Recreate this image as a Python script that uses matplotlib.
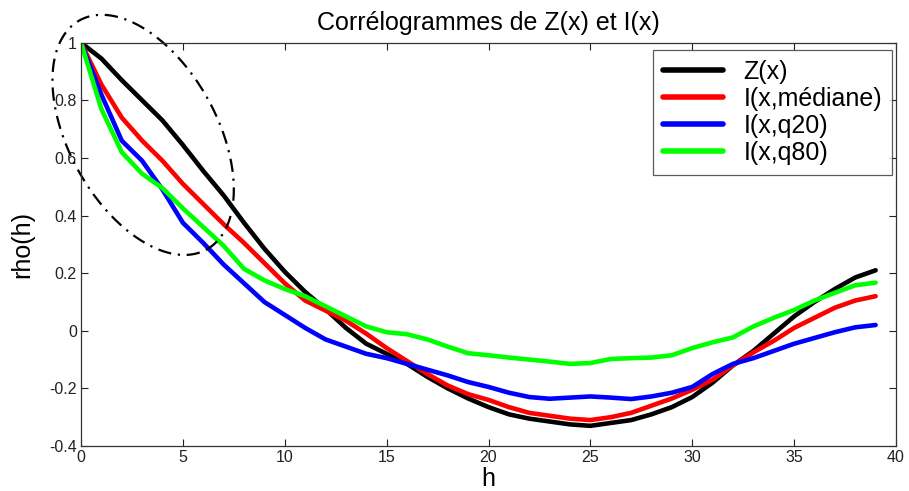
import numpy as np
import matplotlib
matplotlib.use("Agg")
import matplotlib.pyplot as plt

h = list(range(40))
z_x = [1.0, 0.945, 0.87, 0.80, 0.73, 0.645, 0.555, 0.47, 0.375, 0.285,
       0.205, 0.135, 0.075, 0.01, -0.045, -0.08, -0.115, -0.16, -0.2, -0.235,
       -0.265, -0.29, -0.305, -0.315, -0.325, -0.33, -0.32, -0.31, -0.29, -0.265,
       -0.23, -0.18, -0.12, -0.07, -0.01, 0.05, 0.1, 0.145, 0.185, 0.21]
i_med = [1.0, 0.855, 0.74, 0.66, 0.59, 0.51, 0.44, 0.37, 0.305, 0.235,
         0.165, 0.105, 0.07, 0.035, -0.01, -0.06, -0.105, -0.15, -0.19, -0.22,
         -0.24, -0.265, -0.285, -0.295, -0.305, -0.31, -0.3, -0.285, -0.26, -0.235,
         -0.205, -0.17, -0.12, -0.075, -0.035, 0.01, 0.045, 0.08, 0.105, 0.12]
i_q20 = [1.0, 0.82, 0.66, 0.59, 0.49, 0.375, 0.305, 0.23, 0.165, 0.1,
         0.055, 0.01, -0.03, -0.055, -0.08, -0.095, -0.115, -0.135, -0.155, -0.178,
         -0.195, -0.215, -0.23, -0.236, -0.232, -0.228, -0.232, -0.237, -0.228, -0.215,
         -0.195, -0.15, -0.115, -0.095, -0.07, -0.045, -0.025, -0.005, 0.012, 0.02]
i_q80 = [1.0, 0.77, 0.62, 0.545, 0.495, 0.425, 0.36, 0.295, 0.215, 0.175,
         0.145, 0.12, 0.085, 0.05, 0.015, -0.005, -0.012, -0.03, -0.055, -0.078,
         -0.085, -0.093, -0.1, -0.107, -0.115, -0.112, -0.098, -0.095, -0.093, -0.085,
         -0.06, -0.04, -0.023, 0.015, 0.045, 0.072, 0.105, 0.132, 0.158, 0.167]

series_labels = ["Z(x)", "I(x,médiane)", "I(x,q20)", "I(x,q80)"]
series_colors = ["#000000", "#ff0000", "#0000ff", "#00ff00"]
xticks = [0, 5, 10, 15, 20, 25, 30, 35, 40]
yticks = [-0.4, -0.2, 0, 0.2, 0.4, 0.6, 0.8, 1]
ytick_labels = ["-0.4", "-0.2", "0", "0.2", "0.4", "0.6", "0.8", "1"]

plt.rcParams['font.family'] = ['Liberation Sans', 'DejaVu Sans']

fig = plt.figure(figsize=(9.09, 4.91), dpi=100)
ax = fig.add_axes([81/909, 1-446/491, (896-81)/909, (446-42.7)/491])

for ys, lab, col in zip([z_x, i_med, i_q20, i_q80], series_labels, series_colors):
    ax.plot(h, ys, color=col, lw=3.3, label=lab, solid_capstyle='round', solid_joinstyle='round')

ax.set_xlim(0, 40)
ax.set_ylim(-0.4, 1)
ax.set_xticks(xticks)
ax.set_xticklabels([str(t) for t in xticks])
ax.set_yticks(yticks)
ax.set_yticklabels(ytick_labels)
ax.tick_params(direction='in', top=True, right=True, length=5, width=0.8,
               labelsize=11.5, colors='#222222', pad=3)
for sp in ax.spines.values():
    sp.set_linewidth(0.9)
    sp.set_color('#333333')

ax.set_title("Corrélogrammes de Z(x) et I(x)", fontsize=18, pad=9)
ax.set_xlabel("h", fontsize=18, labelpad=1)
ax.set_ylabel("rho(h)", fontsize=18, labelpad=11)

leg = ax.legend(loc='upper right', fontsize=18, frameon=True, fancybox=False,
                edgecolor='#333333', handlelength=2.4, borderpad=0.4,
                labelspacing=0.12, handletextpad=0.8, borderaxespad=0,
                bbox_to_anchor=(0.995, 0.982))
leg.get_frame().set_linewidth(0.9)
for line in leg.get_lines():
    line.set_linewidth(4)

# dash-dot ellipse annotation (drawn in pixel space, converted to data)
fig.canvas.draw()
cx, cy = 3.05, 0.68
a_px, b_px, ang = 131, 74, np.deg2rad(-61)
t = np.linspace(0, 2*np.pi, 300)
u = a_px*np.cos(t)*np.cos(ang) - b_px*np.sin(t)*np.sin(ang)
v = a_px*np.cos(t)*np.sin(ang) + b_px*np.sin(t)*np.cos(ang)
c_disp = ax.transData.transform((cx, cy))
pts = np.column_stack([c_disp[0] + u, c_disp[1] + v])
data_pts = ax.transData.inverted().transform(pts)
ax.plot(data_pts[:, 0], data_pts[:, 1], color='black', lw=1.6,
        linestyle=(0, (6, 3, 1, 3)), clip_on=False)

fig.savefig("out.png", dpi=100)
